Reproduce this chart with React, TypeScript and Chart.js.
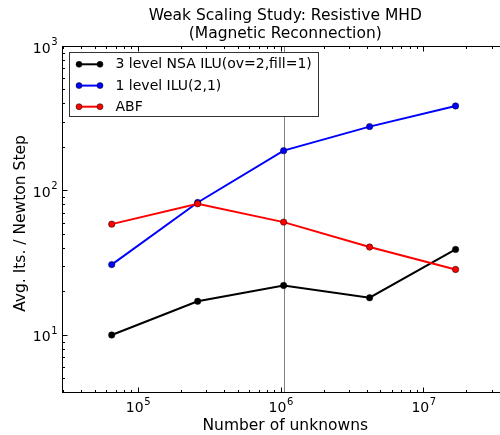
import React, { useEffect, useRef } from "react";
import { Chart, registerables } from "chart.js";

Chart.register(...registerables);

// ---- data ----
const unknowns = [65536, 262144, 1048576, 4194304, 16777216];
const nsaIts = [10.0, 17.1, 22.0, 18.1, 39.1];
const iluIts = [30.7, 82.6, 188.7, 276.8, 384.8];
const abfIts = [58.5, 80.9, 60.4, 40.6, 28.4];
const seriesNames = ["3 level NSA ILU(ov=2,fill=1)", "1 level ILU(2,1)", "ABF"];
const seriesColors = ["#000000", "#0000ff", "#ff0000"];
const verticalMarkers = [1048576];
const xDecades = [4, 5, 6, 7];
const yDecades = [0, 1, 2, 3];
const titleLines = ["Weak Scaling Study: Resistive MHD", "(Magnetic Reconnection)"];
const xTitle = "Number of unknowns";
const yTitle = "Avg. Its. / Newton Step";

const X_MIN = 29400;
const X_MAX = 3.94e7;
const Y_MIN = 4.03;
const Y_MAX = 1000;

const FONT = "'DejaVu Sans', 'Liberation Sans', sans-serif";

const decoPlugin = {
  id: "deco",
  beforeDatasetsDraw(chart: any) {
    const { ctx, chartArea, scales } = chart;
    ctx.save();
    ctx.strokeStyle = "#808080";
    ctx.lineWidth = 1;
    for (const v of verticalMarkers) {
      const x = Math.round(scales.x.getPixelForValue(v)) + 0.5;
      ctx.beginPath();
      ctx.moveTo(x, chartArea.top);
      ctx.lineTo(x, chartArea.bottom);
      ctx.stroke();
    }
    ctx.restore();
  },
  afterDraw(chart: any) {
    const { ctx, chartArea, scales } = chart;
    const L = Math.round(chartArea.left) + 0.5;
    const R = Math.round(chartArea.right) + 0.5;
    const T = Math.round(chartArea.top) + 0.5;
    const B = Math.round(chartArea.bottom) + 0.5;
    ctx.save();
    // frame
    ctx.strokeStyle = "#000";
    ctx.lineWidth = 1;
    ctx.strokeRect(L, T, R - L, B - T);

    // ticks (inward, all sides)
    const drawXTick = (v: number, len: number) => {
      const px = scales.x.getPixelForValue(v);
      if (px < chartArea.left - 0.5 || px > chartArea.right + 0.5) return;
      const x = Math.round(px) + 0.5;
      ctx.beginPath();
      ctx.moveTo(x, B);
      ctx.lineTo(x, B - len);
      ctx.moveTo(x, T);
      ctx.lineTo(x, T + len);
      ctx.stroke();
    };
    const drawYTick = (v: number, len: number) => {
      const py = scales.y.getPixelForValue(v);
      if (py < chartArea.top - 0.5 || py > chartArea.bottom + 0.5) return;
      const y = Math.round(py) + 0.5;
      ctx.beginPath();
      ctx.moveTo(L, y);
      ctx.lineTo(L + len, y);
      ctx.moveTo(R, y);
      ctx.lineTo(R - len, y);
      ctx.stroke();
    };
    ctx.strokeStyle = "#000";
    ctx.lineWidth = 1;
    for (const d of xDecades) {
      drawXTick(Math.pow(10, d), 5);
      for (let m = 2; m <= 9; m++) drawXTick(m * Math.pow(10, d), 2.5);
    }
    for (const d of yDecades) {
      drawYTick(Math.pow(10, d), 5);
      for (let m = 2; m <= 9; m++) drawYTick(m * Math.pow(10, d), 2.5);
    }

    // tick labels
    ctx.fillStyle = "#000";
    const baseFont = "14px " + FONT;
    const supFont = "10px " + FONT;
    for (const d of xDecades) {
      const v = Math.pow(10, d);
      const px = scales.x.getPixelForValue(v);
      if (px < chartArea.left || px > chartArea.right) continue;
      ctx.font = baseFont;
      const w1 = ctx.measureText("10").width;
      ctx.font = supFont;
      const w2 = ctx.measureText(String(d)).width;
      const x0 = px - (w1 + w2) / 2;
      ctx.textAlign = "left";
      ctx.textBaseline = "alphabetic";
      ctx.font = baseFont;
      ctx.fillText("10", x0, B + 19.5);
      ctx.font = supFont;
      ctx.fillText(String(d), x0 + w1 + 0.5, B + 12.5);
    }
    for (const d of yDecades) {
      const v = Math.pow(10, d);
      const py = scales.y.getPixelForValue(v);
      if (py < chartArea.top - 1 || py > chartArea.bottom) continue;
      ctx.font = supFont;
      const w2 = ctx.measureText(String(d)).width;
      ctx.font = baseFont;
      const w1 = ctx.measureText("10").width;
      const xr = L - 5;
      ctx.textAlign = "left";
      ctx.textBaseline = "alphabetic";
      ctx.font = baseFont;
      ctx.fillText("10", xr - w2 - w1 - 0.5, py + 6.5);
      ctx.font = supFont;
      ctx.fillText(String(d), xr - w2, py - 1);
    }

    // title
    const cx = (chartArea.left + chartArea.right) / 2;
    ctx.font = "15.5px " + FONT;
    ctx.textAlign = "center";
    ctx.textBaseline = "alphabetic";
    ctx.fillText(titleLines[0], cx, 20);
    ctx.fillText(titleLines[1], cx, 37.5);

    // axis titles
    ctx.fillText(xTitle, cx, 429.5);
    ctx.save();
    ctx.translate(24.8, (chartArea.top + chartArea.bottom) / 2 + 4.5);
    ctx.rotate(-Math.PI / 2);
    ctx.fillText(yTitle, 0, 0);
    ctx.restore();

    // legend
    const lx = 69.5, ly = 52.5, lw = 249, lh = 64;
    ctx.fillStyle = "#fff";
    ctx.fillRect(lx, ly, lw, lh);
    ctx.strokeStyle = "#333";
    ctx.lineWidth = 1;
    ctx.strokeRect(lx, ly, lw, lh);
    const rows = [64.3, 85.6, 106.7];
    ctx.font = "14px " + FONT;
    ctx.textAlign = "left";
    ctx.textBaseline = "middle";
    seriesNames.forEach((name, i) => {
      const y = rows[i];
      ctx.strokeStyle = seriesColors[i];
      ctx.lineWidth = 2;
      ctx.beginPath();
      ctx.moveTo(79, y);
      ctx.lineTo(100, y);
      ctx.stroke();
      for (const mx of [79, 100]) {
        ctx.beginPath();
        ctx.arc(mx, y, 3, 0, Math.PI * 2);
        ctx.fillStyle = seriesColors[i];
        ctx.fill();
        ctx.lineWidth = 0.5;
        ctx.strokeStyle = "#000";
        ctx.stroke();
      }
      ctx.fillStyle = "#000";
      ctx.fillText(name, 115.5, y + 0.5);
    });
    ctx.restore();
  },
};

export default function App() {
  const ref = useRef<HTMLCanvasElement | null>(null);
  useEffect(() => {
    if (!ref.current) return;
    const seriesValues = [nsaIts, iluIts, abfIts];
    const chart = new Chart(ref.current, {
      type: "line",
      data: {
        datasets: seriesValues.map((vals, i) => ({
          label: seriesNames[i],
          data: unknowns.map((u, j) => ({ x: u, y: vals[j] })),
          borderColor: seriesColors[i],
          backgroundColor: seriesColors[i],
          pointBackgroundColor: seriesColors[i],
          pointBorderColor: "#000",
          pointBorderWidth: 0.5,
          pointRadius: 3.2,
          borderWidth: 2,
          tension: 0,
          fill: false,
          order: 3 - i,
        })),
      },
      options: {
        responsive: false,
        animation: false,
        devicePixelRatio: 1,
        layout: { padding: { left: 62, right: 11.5, top: 46, bottom: 43 } },
        plugins: {
          legend: { display: false },
          title: { display: false },
          tooltip: { enabled: false },
        },
        scales: {
          x: { type: "logarithmic", min: X_MIN, max: X_MAX, display: false },
          y: { type: "logarithmic", min: Y_MIN, max: Y_MAX, display: false },
        },
      },
      plugins: [decoPlugin],
    });
    return () => chart.destroy();
  }, []);
  return (
    <div
      style={{
        position: "fixed",
        left: 0,
        top: 0,
        width: 500,
        height: 435,
        overflow: "hidden",
        background: "#fff",
      }}
    >
      <canvas ref={ref} width={520} height={435} style={{ display: "block" }} />
    </div>
  );
}
